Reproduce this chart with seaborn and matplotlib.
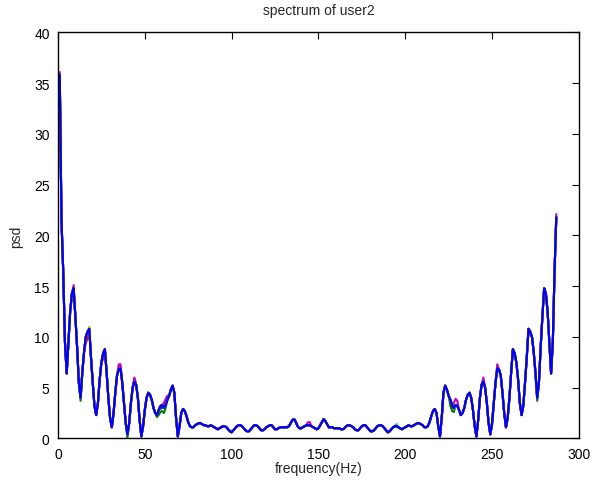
import numpy as np
import pandas as pd
import seaborn as sns
import matplotlib
matplotlib.use("Agg")
import matplotlib.pyplot as plt

# frequency bins 1..287
freq = list(range(1, 288))

# psd (the blue curve on top)
psd = [
    35.8, 21.5, 16.5, 9.5, 6.4, 9.5, 12.5, 14.3, 14.8, 12.0,
    9.0, 5.5, 4.0, 6.5, 8.5, 10.0, 10.5, 10.8, 8.0, 5.5,
    3.2, 2.3, 3.5, 5.8, 7.5, 8.4, 8.8, 6.5, 4.0, 2.0,
    1.1, 2.5, 4.5, 6.2, 6.8, 6.9, 5.5, 3.5, 1.5, 0.4,
    1.5, 3.5, 5.0, 5.6, 5.3, 4.0, 1.8, 0.2, 1.2, 2.8,
    4.0, 4.5, 4.3, 3.8, 3.0, 2.5, 2.3, 2.8, 3.2, 3.3,
    3.0, 3.3, 3.8, 4.2, 4.8, 5.2, 4.5, 2.0, 0.2, 1.2,
    2.5, 2.9, 2.7, 2.2, 1.6, 1.2, 1.1, 1.1, 1.3, 1.4,
    1.5, 1.5, 1.4, 1.3, 1.3, 1.2, 1.2, 1.3, 1.2, 1.1,
    1.0, 0.9, 1.0, 1.1, 1.2, 1.2, 1.1, 0.9, 0.7, 0.6,
    0.8, 1.0, 1.2, 1.3, 1.3, 1.2, 1.0, 0.8, 0.7, 0.7,
    0.9, 1.1, 1.3, 1.3, 1.2, 1.0, 0.8, 0.8, 0.9, 1.1,
    1.2, 1.3, 1.3, 1.1, 0.9, 0.9, 1.0, 1.1, 1.1, 1.1,
    1.1, 1.1, 1.2, 1.5, 1.8, 1.9, 1.6, 1.2, 1.0, 1.0,
    1.1, 1.2, 1.3, 1.3,
    # right half
    1.3, 1.2, 1.1, 1.0, 0.9, 1.0, 1.3, 1.6, 1.9, 1.7,
    1.4, 1.1, 1.1, 1.1, 1.0, 1.0, 1.0, 1.0, 0.9, 0.9,
    1.0, 1.2, 1.3, 1.3, 1.2, 1.1, 0.9, 0.8, 0.8, 1.0,
    1.2, 1.3, 1.3, 1.1, 0.9, 0.7, 0.7, 0.8, 1.0, 1.2,
    1.3, 1.3, 1.2, 1.0, 0.8, 0.6, 0.7, 0.9, 1.1, 1.2,
    1.2, 1.1, 1.0, 0.9, 1.0, 1.1, 1.2, 1.3, 1.2, 1.2,
    1.3, 1.4, 1.5, 1.5, 1.4, 1.3, 1.1, 1.1, 1.2,
    1.6, 2.2, 2.7, 2.9, 2.5, 1.2, 0.2, 2.0, 4.5, 5.2,
    4.8, 4.2, 3.8, 3.3, 3.0, 3.3, 3.2, 2.8, 2.3, 2.5,
    3.0, 3.8, 4.3, 4.5, 4.0, 2.8, 1.2, 0.2, 1.8, 4.0,
    5.3, 5.6, 5.0, 3.5, 1.5, 0.4, 1.5, 3.5, 5.5, 6.9,
    6.8, 6.2, 4.5, 2.5, 1.1, 2.0, 4.0, 6.5, 8.8, 8.4,
    7.5, 5.8, 3.5, 2.3, 3.2, 5.5, 8.0, 10.8, 10.5, 10.0,
    8.5, 6.5, 4.0, 5.5, 9.0, 12.0, 14.8, 14.3, 12.5, 9.5,
    6.4, 9.5, 16.5, 21.8,
]

# where the other trials stick out from under the blue one: {bin: offset}
trials = ["t1", "t2", "t3", "t4", "t5", "t6", "t7", "t8"]
colors = ["#0000ff", "#008000", "#ff0000", "#00bfbf",
          "#bf00bf", "#bfbf00", "#404040", "#0000ff"]
offsets = {
    "t1": {},
    "t2": {6: -0.2, 8: -0.3, 13: -0.3, 26: -0.2, 40: -0.4, 44: 0.3,
           57: -0.2, 58: -0.5, 59: -0.6, 60: -0.6, 61: -0.5, 62: -0.3,
           226: -0.6, 227: -0.6, 228: -0.4, 250: -0.3, 275: -0.4,
           276: -0.3, 281: -0.3},
    "t3": {8: -0.4, 9: -0.4, 16: -0.6, 17: -0.7, 26: -0.6, 27: -0.4,
           35: 0.2, 62: 0.2, 63: 0.3, 263: -0.4, 272: -0.3},
    "t4": {44: 0.2, 60: -0.3, 100: 0.2, 195: 0.2, 229: -0.2},
    "t5": {1: 0.3, 9: 0.3, 35: 0.5, 36: 0.4, 44: 0.4, 61: 0.5, 62: 0.6,
           63: 0.4, 144: 0.3, 145: 0.3, 228: 0.5, 229: 0.6, 230: 0.5,
           245: 0.4, 253: 0.4, 287: 0.3},
    "t6": {18: 0.2, 30: 0.2},
    "t7": {59: -0.3, 60: -0.2, 227: -0.3},
    "t8": {},
}

rows = []
for t in trials:
    for f, p in zip(freq, psd):
        rows.append((t, f, max(p + offsets[t].get(f, 0.0), 0.0)))
df = pd.DataFrame(rows, columns=["trial", "freq", "psd"])

sns.set_theme(style="white")
plt.rcParams["font.family"] = ["Liberation Sans", "DejaVu Sans"]
plt.rcParams["xtick.direction"] = "in"
plt.rcParams["ytick.direction"] = "in"
plt.rcParams["xtick.top"] = True
plt.rcParams["ytick.right"] = True

fig, ax = plt.subplots(figsize=(5.98, 4.85), dpi=100)
fig.subplots_adjust(left=0.097, right=0.968, bottom=0.094, top=0.931)

sns.lineplot(data=df, x="freq", y="psd", hue="trial", hue_order=trials,
             palette=dict(zip(trials, colors)), estimator=None,
             linewidth=1.5, legend=False, ax=ax)

ax.set_xlim(0, 300)
ax.set_ylim(0, 40)
ax.set_xticks(range(0, 301, 50))
ax.set_yticks(range(0, 41, 5))
ax.tick_params(labelsize=10, length=5, width=0.8, colors="black",
               top=True, right=True)
ax.tick_params(axis="x", pad=6)
ax.tick_params(axis="y", pad=6)
for s in ax.spines.values():
    s.set_color("black")
    s.set_linewidth(1.0)
ax.set_title("spectrum of user2", fontsize=10, pad=13)
ax.set_xlabel("frequency(Hz)", fontsize=10, labelpad=0)
ax.set_ylabel("psd", fontsize=10, labelpad=8)

fig.savefig("out.png", dpi=100)
